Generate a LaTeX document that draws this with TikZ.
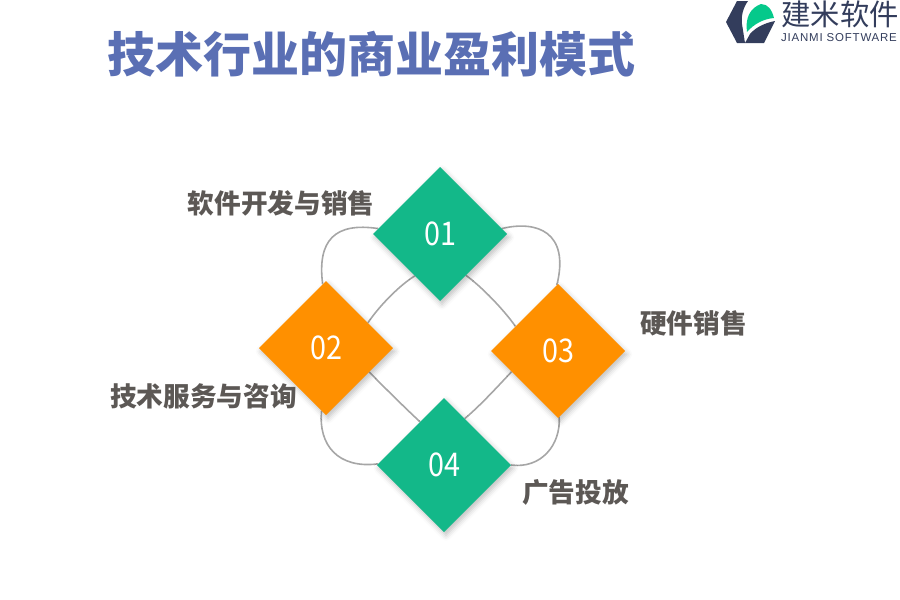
\documentclass[tikz,border=0pt]{standalone}
\usepackage{fontspec}
\setmainfont{Noto Sans CJK SC}
\newfontfamily\numfont[FakeStretch=.88]{Noto Sans CJK SC}
\newfontfamily\latinfont[LetterSpace=7]{Liberation Sans}
\usetikzlibrary{shapes.geometric,shadows.blur,backgrounds}
\definecolor{titleblue}{HTML}{5A6FB4}
\definecolor{labelgray}{HTML}{5C5855}
\definecolor{linegray}{HTML}{A6A6A6}
\definecolor{greenbox}{HTML}{13B889}
\definecolor{orangebox}{HTML}{FF9000}
\definecolor{logodark}{HTML}{333D5C}
\definecolor{logogreen}{HTML}{05C98B}
\tikzset{
	petal/.style={diamond,aspect=1,inner sep=0pt,outer sep=0pt,minimum width=100.5pt,minimum height=100.5pt,text=white,font=\numfont\fontsize{24.5}{24}\selectfont,
		blur shadow={shadow xshift=1.5pt,shadow yshift=-2.5pt,shadow blur radius=4pt,shadow opacity=25}},
	label/.style={text=labelgray,font=\bfseries\fontsize{20}{20}\selectfont,inner sep=0pt},
	link/.style={draw=linegray,line width=1.2pt}
}
\begin{document}
\begin{tikzpicture}[x=0.75pt,y=-0.75pt]
	\useasboundingbox (0,0) rectangle (900,600);
	\node [text=titleblue,font=\bfseries\fontsize{36}{36}\selectfont,inner sep=0pt] (title) at (371.5,54) {技术行业的商业盈利模式};
	\node [petal,fill=greenbox] (d01) at (440,234) {01};
	\node [petal,fill=orangebox] (d02) at (326,348) {02};
	\node [petal,fill=orangebox] (d03) at (558,351) {03};
	\node [petal,fill=greenbox] (d04) at (444,465) {04};
	\node [label] (l01) at (281,203) {软件开发与销售};
	\node [label] (l02) at (203.5,396) {技术服务与咨询};
	\node [label] (l03) at (693.5,323) {硬件销售};
	\node [label] (l04) at (575.5,492) {广告投放};
	\begin{pgfonlayer}{background}
		\path [link]
			(d01.175) .. controls (335,222) and (317,240) .. (d02.93)
			(d01.239) .. controls (400,285) and (380,305) .. (d02.31)
			(d01.5) .. controls (537,220) and (570,232) .. (d03.91)
			(d01.302) .. controls (482,287) and (504,310) .. (d03.150)
			(d02.266) .. controls (318,445) and (338,469) .. (d04.179)
			(d02.331) .. controls (380,383) and (404,407) .. (d04.119)
			(d03.271) .. controls (561,445) and (541,469) .. (d04.0)
			(d03.204) .. controls (500,384) and (480,406) .. (d04.66);
	\end{pgfonlayer}
	% logo
	\fill [logodark] (737,1) -- (748,1) .. controls (743,8) and (741,16) .. (742,24) -- (745,43) -- (737,43) -- (726,22) -- cycle;
	\fill [logodark] (775,21) -- (764,43) -- (745,43) -- (750,34) .. controls (756,27) and (765,23) .. (775,21) -- cycle;
	\fill [logogreen] (747,32) .. controls (745,18) and (750,8) .. (761,4) .. controls (768,4) and (772,10) .. (774,18) .. controls (763,19) and (754,24) .. (747,32) -- cycle;
	\node [text=logodark,font=\fontsize{22}{22}\selectfont,inner sep=0pt] (logoname) at (840,14) {建米软件};
	\node [text=logodark,font=\latinfont\fontsize{8.6}{9}\selectfont,inner sep=0pt] (logosub) at (839,38) {JIANMI SOFTWARE};
\end{tikzpicture}
\end{document}
